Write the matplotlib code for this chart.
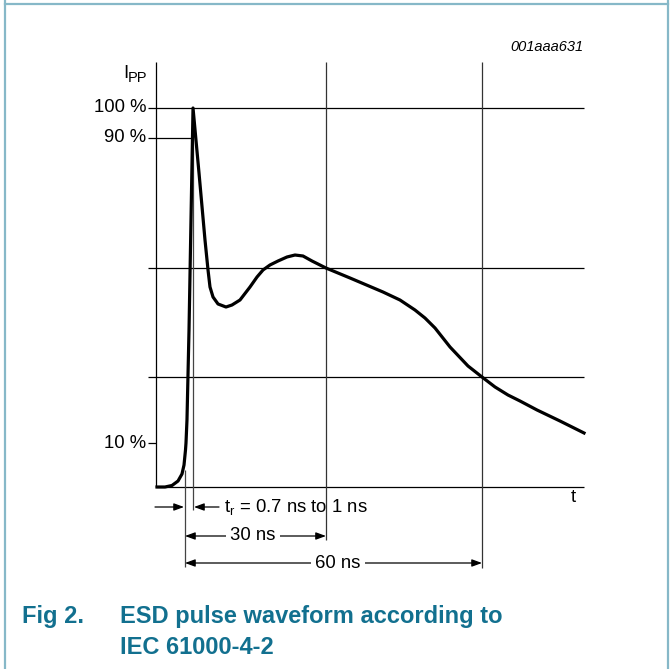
import matplotlib
matplotlib.use("Agg")
import matplotlib.pyplot as plt

plt.rcParams['font.family'] = ['Liberation Sans', 'DejaVu Sans']
plt.rcParams['mathtext.fontset'] = 'custom'
plt.rcParams['mathtext.rm'] = 'Liberation Sans'
plt.rcParams['mathtext.it'] = 'Liberation Sans'

# waveform: time in ns (0 = 10 % point), current in % of Ipp
t_ns = [-5.66, -4.04, -2.63, -1.41, -0.61, -0.20, 0.10, 0.20, 0.40, 0.81, 1.21, 1.62,
        2.83, 4.04, 4.65, 5.05, 5.66, 6.67, 8.28, 9.49, 11.11, 13.13, 14.55,
        15.76, 17.17, 18.79, 20.61, 22.22, 23.84, 25.66, 28.48, 33.33, 40.0, 43.43,
        46.46, 48.48, 50.51, 53.54, 57.17, 60.0, 62.63, 65.25, 67.68, 71.11, 75.76, 80.61]
ipp_pct = [0.0, 0.0, 0.4, 1.58, 3.43, 5.8, 9.76, 11.61, 17.68, 41.42, 70.45, 100.0,
           82.85, 65.17, 57.26, 52.77, 50.13, 48.29, 47.49, 48.02, 49.34, 52.77, 55.41,
           57.26, 58.58, 59.63, 60.69, 61.21, 60.95, 59.63, 57.78, 55.15, 51.45, 49.34,
           46.7, 44.59, 41.95, 36.94, 31.93, 29.02, 26.39, 24.27, 22.69, 20.32, 17.41, 14.25]

grid_levels = [100.0, 57.8, 29.0]          # horizontal lines
tick_vals = [100.0, 92.1, 11.6]
tick_labels = ['100 %', '90 %', '10 %']
t_marks = [28.48, 60.0]                     # 30 ns and 60 ns verticals
t_90 = 1.62                                 # end of rise time
dim_labels = ['30 ns', '60 ns']

# layout (pixel geometry of the figure -> data units)
W, H = 672, 669
PX_NS, PX_PCT = 4.95, 3.79
X_ORIG, Y_ORIG = 185, 487

fig = plt.figure(figsize=(W / 100, H / 100), dpi=100)
ax = fig.add_axes([0, 0, 1, 1])
ax.set_xlim(-X_ORIG / PX_NS, (W - X_ORIG) / PX_NS)
ax.set_ylim(-(H - Y_ORIG) / PX_PCT, Y_ORIG / PX_PCT)
ax.axis('off')


def fx(px):
    return (px - X_ORIG) / PX_NS


def fy(py):
    return (Y_ORIG - py) / PX_PCT


def figpt(px, py):
    return px / W, 1 - py / H


# frame
bc = '#86b8c8'
fig.add_artist(plt.Line2D([5 / W, 5 / W], [0, 1], color=bc, lw=1.6))
fig.add_artist(plt.Line2D([668 / W, 668 / W], [0, 1], color=bc, lw=1.6))
fig.add_artist(plt.Line2D([5 / W, 668 / W], [1 - 4 / H, 1 - 4 / H], color=bc, lw=1.6))

x_axis, x_right, y_top = fx(156), fx(584), fy(62)
lw_thin = 0.9

# axes and grid
ax.vlines(x_axis, 0, y_top, color='black', lw=lw_thin)
ax.hlines(0, x_axis, x_right, color='black', lw=lw_thin)
for lv in grid_levels:
    ax.hlines(lv, fx(148), x_right, color='black', lw=lw_thin)
ax.vlines(t_marks[0], fy(540), y_top, color='#333333', lw=lw_thin)
ax.vlines(t_marks[1], fy(568), y_top, color='#333333', lw=lw_thin)

# ticks
ax.hlines(tick_vals[1], fx(148), t_90 - 0.3, color='black', lw=lw_thin)
ax.hlines(tick_vals[2], fx(148), x_axis, color='black', lw=lw_thin)
for v, lab in zip(tick_vals, tick_labels):
    ax.text(fx(146), v, lab, ha='right', va='center', fontsize=13.3)

# rise time markers
ax.vlines(0, fy(567), fy(470), color='#444444', lw=lw_thin)
ax.vlines(t_90, fy(510), tick_vals[1], color='#444444', lw=lw_thin)

# waveform
ax.plot(t_ns, ipp_pct, color='black', lw=2.3, solid_joinstyle='round', zorder=5)

# labels
fig.text(*figpt(147, 78), 'PP', ha='right', va='center', fontsize=10.5)
fig.text(*figpt(128, 74), 'I', ha='right', va='center', fontsize=13.3)
fig.text(*figpt(583, 47), '001aaa631', ha='right', va='center', fontsize=10.5,
         style='italic')
fig.text(*figpt(573, 498), 't', ha='center', va='center', fontsize=13.3)

aprops = dict(arrowstyle='-|>,head_length=0.6,head_width=0.22', color='black',
              lw=lw_thin, shrinkA=0, shrinkB=0)
yr = fy(507)
ax.annotate('', xy=(fx(184), yr), xytext=(fx(155), yr), arrowprops=aprops)
ax.annotate('', xy=(t_90 + 0.2, yr), xytext=(fx(219), yr), arrowprops=aprops)
ax.text(fx(224), yr, r'$\mathregular{t_r}$ = 0.7 ns to 1 ns', ha='left', va='center',
        fontsize=13.3)

for tm, lab, py, tx in zip(t_marks, dim_labels, [536, 563], [253, 338]):
    yy = fy(py)
    ax.annotate('', xy=(0, yy), xytext=(tm / 2, yy), arrowprops=aprops)
    ax.annotate('', xy=(tm, yy), xytext=(tm / 2, yy), arrowprops=aprops)
    ax.text(fx(tx), yy, lab, ha='center', va='center', fontsize=13.3,
            bbox=dict(facecolor='white', edgecolor='none', pad=3))

# caption
cc = '#12708f'
fig.text(*figpt(22, 617), 'Fig 2.', ha='left', va='center', fontsize=17,
         fontweight='bold', color=cc)
fig.text(*figpt(120, 617), 'ESD pulse waveform according to', ha='left', va='center',
         fontsize=17, fontweight='bold', color=cc)
fig.text(*figpt(120, 647), 'IEC 61000-4-2', ha='left', va='center', fontsize=17,
         fontweight='bold', color=cc)

fig.savefig('out.png', dpi=100)
